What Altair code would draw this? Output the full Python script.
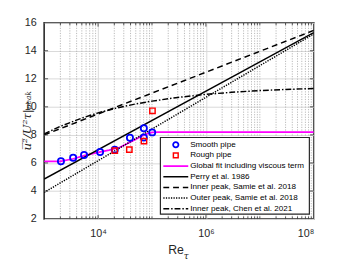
import altair as alt
import pandas as pd

# ---------------- data ----------------
smooth_re = [2050, 3450, 5500, 10900, 20400, 39000, 70600, 70600, 101000]
smooth_u = [6.12, 6.37, 6.57, 6.78, 6.95, 7.80, 8.48, 7.82, 8.18]

rough_re = [20400, 38000, 71000, 102000]
rough_u = [6.88, 6.95, 7.56, 9.72]

fit_re = [1e3, 2e3, 3.5e3, 5.5e3, 1e4, 1.6e4, 2.5e4, 4e4, 6e4, 8e4, 1e5, 1.3e5, 1e8]
fit_u = [6.12, 6.12, 6.30, 6.52, 6.76, 6.92, 7.10, 7.50, 7.85, 8.08, 8.18, 8.20, 8.20]

perry_re = [1e3, 1e8]
perry_u = [4.85, 15.3]

samie_in_re = [1e3, 1e8]
samie_in_u = [8.0, 15.45]

samie_out_re = [1e3, 1e8]
samie_out_u = [3.9, 15.2]

chen_re = [1e3, 2e3, 5e3, 1e4, 2e4, 5e4, 1e5, 3e5, 1e6, 3e6, 1e7, 3e7, 1e8]
chen_u = [8.07, 8.61, 9.20, 9.57, 9.88, 10.21, 10.41, 10.67, 10.89, 11.04, 11.16, 11.24, 11.31]

legend_labels = [
    "Smooth pipe",
    "Rough pipe",
    "Global fit including viscous term",
    "Perry et al. 1986",
    "Inner peak, Samie et al. 2018",
    "Outer peak, Samie et al. 2018",
    "Inner peak, Chen et al. 2021",
]

x_major = [1e4, 1e6, 1e8]
y_ticks = [2, 4, 6, 8, 10, 12, 14, 16]
decades = [3, 4, 5, 6, 7]

# ---------------- layout ----------------
W, H = 276, 201
FONT = "Liberation Sans"
AX = "#262626"

minor_x = [m * 10 ** k for k in decades for m in range(2, 10)] + [1e5, 1e7]

xscale = alt.Scale(type="log", domain=[1e3, 1e8], nice=False)
yscale = alt.Scale(domain=[2, 16], nice=False, zero=False)

xaxis = alt.Axis(
    values=x_major, title=None, grid=True, gridColor="#d9d9d9", gridWidth=1,
    tickSize=0, domain=False, labelPadding=9, labelFontSize=11, labelFont=FONT,
    labelColor=AX,
    labelExpr="datum.value == 10000 ? '10⁴' : datum.value == 1000000 ? '10⁶' : '10⁸'",
)
yaxis = alt.Axis(
    values=y_ticks, title=None, grid=True, gridColor="#d9d9d9", gridWidth=1,
    tickSize=0, domain=False, labelPadding=8, labelFontSize=11, labelFont=FONT,
    labelColor=AX,
)


def X(field="re"):
    return alt.X(f"{field}:Q", scale=xscale, axis=xaxis)


def Y(field="u"):
    return alt.Y(f"{field}:Q", scale=yscale, axis=yaxis)


one = pd.DataFrame({"a": [0]})

minor_df = pd.DataFrame({"re": minor_x})
minor_grid = alt.Chart(minor_df).mark_rule(
    color="#b0b0b0", strokeWidth=0.9, strokeDash=[1.2, 1.4]
).encode(x=X(), y=alt.value(0), y2=alt.value(H))


def line_layer(re, u, color, width, dash=None):
    kw = dict(color=color, strokeWidth=width, clip=True)
    if dash:
        kw["strokeDash"] = dash
    return alt.Chart(pd.DataFrame({"re": re, "u": u})).mark_line(**kw).encode(x=X(), y=Y())


fit_line = line_layer(fit_re, fit_u, "#ff00ff", 1.8)
perry_line = line_layer(perry_re, perry_u, "black", 1.5)
samie_in_line = line_layer(samie_in_re, samie_in_u, "black", 1.5, [6, 4])
samie_out_line = line_layer(samie_out_re, samie_out_u, "black", 1.5, [1.3, 1.3])
chen_line = line_layer(chen_re, chen_u, "black", 1.5, [6, 2, 1.5, 2])

smooth_pts = alt.Chart(pd.DataFrame({"re": smooth_re, "u": smooth_u})).mark_point(
    shape="circle", size=40, color="#0000ff", strokeWidth=1.8, filled=False, opacity=1
).encode(x=X(), y=Y())
rough_pts = alt.Chart(pd.DataFrame({"re": rough_re, "u": rough_u})).mark_point(
    shape="square", size=30, color="#ff0000", strokeWidth=1.5, filled=False, opacity=1
).encode(x=X(), y=Y())

# ---------------- inward ticks (MATLAB box style) ----------------
minor_ticks_b = alt.Chart(minor_df).mark_rule(color=AX, strokeWidth=0.8).encode(
    x=X(), y=alt.value(H), y2=alt.value(H - 2.5))
minor_ticks_t = alt.Chart(minor_df).mark_rule(color=AX, strokeWidth=0.8).encode(
    x=X(), y=alt.value(0), y2=alt.value(2.5))
maj_df = pd.DataFrame({"re": [1e4, 1e6]})
maj_ticks_b = alt.Chart(maj_df).mark_rule(color=AX, strokeWidth=0.8).encode(
    x=X(), y=alt.value(H), y2=alt.value(H - 4))
maj_ticks_t = alt.Chart(maj_df).mark_rule(color=AX, strokeWidth=0.8).encode(
    x=X(), y=alt.value(0), y2=alt.value(4))
yt_df = pd.DataFrame({"u": y_ticks[1:-1]})
y_ticks_l = alt.Chart(yt_df).mark_rule(color=AX, strokeWidth=0.8).encode(
    y=Y(), x=alt.value(0), x2=alt.value(4))
y_ticks_r = alt.Chart(yt_df).mark_rule(color=AX, strokeWidth=0.8).encode(
    y=Y(), x=alt.value(W - 4), x2=alt.value(W))

# ---------------- legend (drawn by hand, MATLAB style) ----------------
LX0, LX1, LY0, LY1 = 119, 271.5, 117.5, 196
legend_box = alt.Chart(one).mark_rect(
    fill="white", stroke="#262626", strokeWidth=1.2
).encode(x=alt.value(LX0), x2=alt.value(LX1), y=alt.value(LY0), y2=alt.value(LY1))

rows = [125 + 10.9 * i for i in range(len(legend_labels))]
sx0, sx1 = 122, 147.5
smid = (sx0 + sx1) / 2
leg_layers = []
for lab, ry in zip(legend_labels, rows):
    leg_layers.append(
        alt.Chart(one).mark_text(
            text=lab, align="left", baseline="middle", fontSize=8.3, font=FONT, color="black"
        ).encode(x=alt.value(149.5), y=alt.value(ry))
    )
leg_layers.append(alt.Chart(one).mark_point(
    shape="circle", size=30, color="#0000ff", strokeWidth=1.8, filled=False, opacity=1
).encode(x=alt.value(smid), y=alt.value(rows[0])))
leg_layers.append(alt.Chart(one).mark_point(
    shape="square", size=24, color="#ff0000", strokeWidth=1.5, filled=False, opacity=1
).encode(x=alt.value(smid), y=alt.value(rows[1])))
styles = [
    ("#ff00ff", None),
    ("black", None),
    ("black", [6, 4]),
    ("black", [1.3, 1.3]),
    ("black", [6, 2, 1.5, 2]),
]
for (col, dash), ry in zip(styles, rows[2:]):
    kw = dict(color=col, strokeWidth=1.5 if col == "black" else 1.8)
    if dash:
        kw["strokeDash"] = dash
    leg_layers.append(alt.Chart(one).mark_rule(**kw).encode(
        x=alt.value(sx0), x2=alt.value(sx1), y=alt.value(ry)))

# ---------------- axis titles ----------------
x_title = alt.Chart(one).mark_text(
    text="Re", align="center", baseline="alphabetic", fontSize=12.5, font=FONT, color=AX
).encode(x=alt.value(W / 2 - 3), y=alt.value(237))
x_title_sub = alt.Chart(one).mark_text(
    text="τ", align="left", baseline="alphabetic", fontSize=9, font="DejaVu Serif",
    fontStyle="italic", color=AX
).encode(x=alt.value(W / 2 + 5), y=alt.value(242))
y_title = alt.Chart(one).mark_text(
    text="u̅²̅/U²τ|ₚₑₐₖ", align="center", baseline="middle", fontSize=12,
    font="DejaVu Serif", fontStyle="italic", angle=270, color=AX
).encode(x=alt.value(-17), y=alt.value(H / 2))

chart = alt.layer(
    minor_grid,
    fit_line, perry_line, samie_in_line, samie_out_line, chen_line,
    smooth_pts, rough_pts,
    minor_ticks_b, minor_ticks_t, maj_ticks_b, maj_ticks_t, y_ticks_l, y_ticks_r,
    legend_box, *leg_layers,
    x_title, x_title_sub, y_title,
).properties(
    width=W, height=H,
    autosize=alt.AutoSizeParams(type="none"),
    padding={"left": 37, "top": 12, "right": 33, "bottom": 45},
).configure_view(stroke=AX, strokeWidth=1.6)

chart.save("out.html", embed_options={"renderer": "svg", "actions": False})
